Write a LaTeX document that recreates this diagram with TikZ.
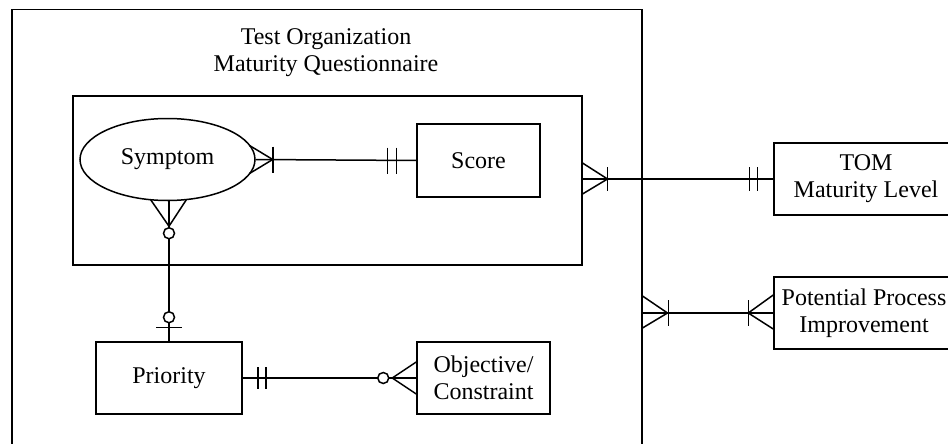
\documentclass[tikz,border=0pt]{standalone}
\usepackage{fontspec}
\setmainfont{Liberation Serif}
\usetikzlibrary{shapes.geometric,calc}

\begin{document}
\begin{tikzpicture}[x=1pt,y=-1pt,
  every node/.style={font=\fontsize{24}{27}\selectfont},
  entity/.style={draw, line width=1.5pt, inner sep=0pt, align=center},
  link/.style={line width=1.5pt},
  ring/.style={draw, line width=1.5pt, fill=white}]
\useasboundingbox (0,0) rectangle (948,444);
\clip (0,0) rectangle (948,444);

% containers
\node[entity, anchor=north west, minimum width=630, minimum height=470] (tomq) at (11,9) {};
\node[align=center] (title) at (326,53) {Test Organization\\Maturity Questionnaire};
\node[entity, anchor=north west, minimum width=509, minimum height=169] (qbox) at (72,95) {};

% entities
\node[entity, shape=ellipse, minimum width=175, minimum height=82] (symptom) at (167.5,159.5) {Symptom};
\node[entity, minimum width=123, minimum height=73] (score) at (478.5,160.5) {Score};
\node[entity, minimum width=146, minimum height=72] (priority) at (169,378) {Priority};
\node[entity, minimum width=133, minimum height=72] (objective) at (483.5,378) {Objective/\\Constraint};
\node[entity, minimum width=184, minimum height=72] (tom) at (866,179) {TOM\\Maturity Level};
\node[entity, minimum width=180, minimum height=72] (ppi) at (864,313) {Potential Process\\Improvement};

% Symptom -- Score
\draw[link] (symptom.east) -- (score.west);
\draw[link] ($(symptom.center)+(82,-14)$) -- ($(symptom.east)+(17,0)$) -- ($(symptom.center)+(82,14)$);
\draw[link] ($(symptom.east)+(17,-13)$) -- ++(0,26);
\draw[link] ($(score.west)+(-29,-13)$) -- ++(0,26);
\draw[link] ($(score.west)+(-20,-13)$) -- ++(0,26);

% Symptom -- Priority
\coordinate (sb) at (priority.north |- symptom.south);
\draw[link] (priority.north) -- (sb);
\draw[link] ($(symptom.center)+(-17,40)$) -- ($(sb)+(0,25)$) -- ($(symptom.center)+(19,40)$);
\draw[ring] ($(sb)+(0,32)$) circle (5.5);
\draw[ring] ($(priority.north)+(0,-24)$) circle (5.5);
\draw[link] ($(priority.north)+(-13,-14)$) -- ++(26,0);

% Priority -- Objective/Constraint
\draw[link] (priority.east) -- (objective.west);
\draw[link] ($(priority.east)+(15,-11)$) -- ++(0,22);
\draw[link] ($(priority.east)+(23,-11)$) -- ++(0,22);
\draw[link] ($(objective.west)+(0,-16)$) -- ($(objective.west)+(-24,0)$) -- ($(objective.west)+(0,16)$);
\draw[ring] ($(objective.west)+(-33,0)$) circle (5.5);

% Questionnaire -- TOM Maturity Level
\coordinate (qe) at (qbox.east |- tom.west);
\draw[link] (qe) -- (tom.west);
\draw[link] ($(qe)+(0,-16)$) -- ($(qe)+(25,0)$) -- ($(qe)+(0,15)$);
\draw[link] ($(qe)+(25,-12)$) -- ++(0,24);
\draw[link] ($(tom.west)+(-24,-12)$) -- ++(0,24);
\draw[link] ($(tom.west)+(-16,-12)$) -- ++(0,24);

% Test Organization -- Potential Process Improvement
\coordinate (te) at (tomq.east |- ppi.west);
\draw[link] (te) -- (ppi.west);
\draw[link] ($(te)+(0,-17)$) -- ($(te)+(25,0)$) -- ($(te)+(0,15)$);
\draw[link] ($(te)+(26,-13)$) -- ++(0,26);
\draw[link] ($(ppi.west)+(0,-18)$) -- ($(ppi.west)+(-25,0)$) -- ($(ppi.west)+(0,16)$);
\draw[link] ($(ppi.west)+(-25,-13)$) -- ++(0,26);
\end{tikzpicture}
\end{document}
